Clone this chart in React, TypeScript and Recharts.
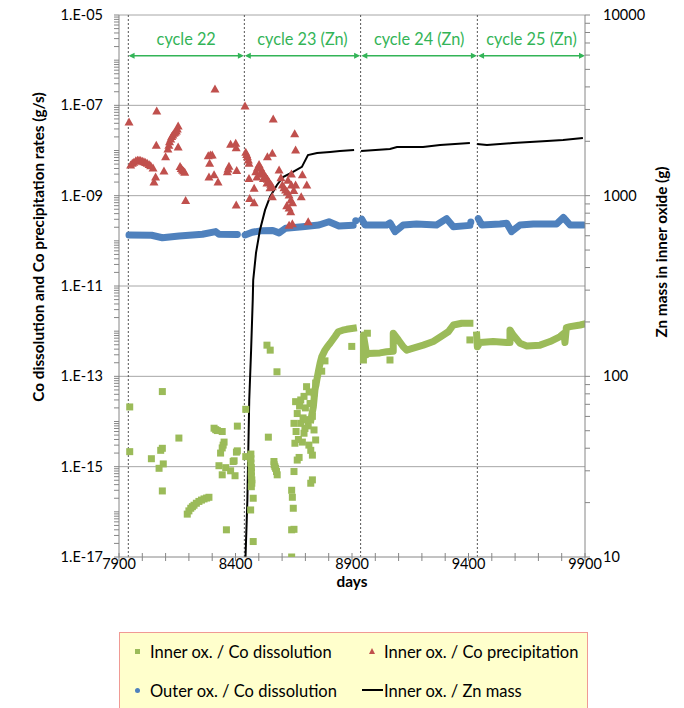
import React from 'react'
import { ComposedChart, XAxis, YAxis, Scatter, Line, ReferenceLine } from 'recharts'

type Pt = [number, number]

const FONT = 'Lato, "Liberation Sans", sans-serif'
const GREEN = '#9BBB59'
const RED = '#C0504D'
const BLUE = '#4F81BD'
const CYCLE = '#33B457'
const AXIS = '#868686'
const GRID = '#A6A6A6'

// axes
const leftMajor = [1e-17, 1e-15, 1e-13, 1e-11, 1e-9, 1e-7, 1e-5]
const rightMajor = [10, 100, 1000, 10000]
const dayTicks = [7900, 8000, 8100, 8200, 8300, 8400, 8500, 8600, 8700, 8800, 8900, 9000, 9100, 9200, 9300, 9400, 9500, 9600, 9700, 9800, 9900]
const dayLabels = [7900, 8400, 8900, 9400, 9900]

// cycles
const cycleBounds = [7940, 8438, 8937, 9438]
const cycleNames = ['cycle 22', 'cycle 23 (Zn)', 'cycle 24 (Zn)', 'cycle 25 (Zn)']
const cycleStarts = [7941, 8440, 8940, 9441]
const cycleEnds = [8436, 8935, 9436, 9900]
const ARROW_LEVEL = 1.25e-6

// Inner ox. / Co dissolution (g/s) - scattered squares
const innerDissolution: Pt[] = [
  [7946, 2.1e-14], [7946, 2.15e-15], [8039, 1.5e-15], [8072, 9.2e-16], [8079, 2.3e-15], [8086, 2.55e-15],
  [8090, 1.15e-15], [8086, 2.9e-16], [8086, 4.6e-14], [8157, 4.3e-15],
  [8193, 8.9e-17], [8200, 1.05e-16], [8208, 1.2e-16], [8215, 1.3e-16], [8222, 1.4e-16], [8232, 1.55e-16],
  [8243, 1.7e-16], [8254, 1.82e-16], [8265, 1.93e-16], [8276, 2.02e-16], [8286, 2.1e-16],
  [8308, 7.1e-15], [8315, 6.6e-15], [8322, 6.3e-15], [8343, 6.0e-15], [8351, 3.5e-15], [8347, 3.0e-15],
  [8343, 2.6e-15], [8336, 2.0e-15], [8329, 1.05e-15], [8343, 6.6e-16], [8358, 9.5e-16], [8379, 8.1e-16],
  [8398, 6.3e-16], [8394, 1.35e-15], [8390, 1.3e-15], [8408, 7.9e-15], [8408, 2.24e-15], [8404, 2.1e-15],
  [8361, 4.0e-17],
  [8444, 1.86e-14], [8444, 1.67e-15], [8466, 1.9e-15], [8466, 1.5e-15], [8466, 1.2e-15], [8468, 9.5e-16],
  [8468, 7.6e-16], [8468, 6.2e-16], [8470, 5.1e-16], [8470, 4.3e-16], [8468, 3.6e-16], [8476, 2.0e-16],
  [8465, 1.1e-16], [8476, 2.2e-17],
  [8535, 4.9e-13], [8549, 3.8e-13], [8578, 1.26e-13], [8541, 4.5e-15], [8565, 1.3e-15], [8566, 1.1e-15],
  [8569, 1.0e-15], [8572, 9.2e-16], [8576, 7.8e-16], [8579, 6.6e-16],
  [8641, 3.0e-16], [8644, 2.1e-16], [8648, 1.2e-16], [8641, 4.0e-17], [8651, 4.1e-17], [8641, 1.0e-17],
  [8651, 7.8e-16], [8665, 1.4e-15], [8673, 1.6e-15], [8655, 3.3e-15], [8651, 9.1e-15], [8658, 2.75e-14],
  [8680, 3.0e-14], [8694, 3.6e-14], [8705, 5.9e-14], [8723, 2.3e-15], [8730, 1.8e-15], [8730, 5.1e-16],
  [8723, 4.3e-16],
  [8665, 1.5e-14], [8680, 9.1e-15], [8694, 5.5e-15], [8687, 3.5e-15], [8730, 1.3e-14], [8737, 6.5e-15],
  [8744, 3.9e-15], [8737, 4.3e-14], [8744, 7.1e-14], [8660, 6.0e-15], [8670, 4.0e-15], [8700, 2.0e-14],
  [8712, 8.0e-15], [8715, 3.0e-15], [8690, 1.2e-14], [8720, 2.5e-14], [8705, 1.1e-14], [8698, 7.0e-15],
  [8675, 2.2e-14], [8716, 4.5e-14],
  [8770, 1.3e-13], [8784, 2.2e-13], [8899, 4.6e-13], [8966, 9.0e-13], [9063, 2.3e-13], [9406, 6.4e-13],
]

// Inner ox. / Co dissolution - dense runs of squares
const innerBand23: Pt[] = [
  [8724, 1.1e-14], [8734, 2.1e-14], [8741, 5.0e-14], [8749, 8.3e-14], [8756, 1.3e-13], [8763, 1.95e-13],
  [8770, 2.7e-13], [8784, 3.8e-13], [8795, 4.6e-13], [8806, 5.4e-13], [8827, 7.6e-13], [8841, 9.7e-13],
  [8860, 1.05e-12], [8877, 1.1e-12], [8906, 1.16e-12],
]
const innerBand24: Pt[] = [
  [8949, 2.3e-13], [8949, 8.2e-13], [8956, 5.0e-13], [8963, 3.0e-13], [8970, 3.2e-13], [9020, 3.3e-13],
  [9049, 3.5e-13], [9077, 3.6e-13], [9077, 9.0e-13], [9099, 6.4e-13], [9120, 4.5e-13], [9135, 3.8e-13],
  [9163, 4.2e-13], [9206, 4.9e-13], [9249, 5.9e-13], [9292, 8.2e-13], [9313, 9.7e-13], [9335, 1.37e-12],
  [9371, 1.5e-12], [9406, 1.5e-12],
]
const innerBand25: Pt[] = [
  [9435, 8.2e-13], [9438, 4.5e-13], [9449, 5.6e-13], [9506, 5.9e-13], [9564, 5.6e-13], [9578, 5.6e-13],
  [9578, 1.06e-12], [9592, 8.2e-13], [9621, 5.4e-13], [9650, 4.7e-13], [9707, 4.9e-13], [9750, 5.9e-13],
  [9793, 7.6e-13], [9810, 9.0e-13], [9814, 5.6e-13], [9820, 1.2e-12], [9836, 1.26e-12], [9879, 1.37e-12],
  [9898, 1.44e-12],
]

// Inner ox. / Co precipitation (g/s)
const innerPrecipitation: Pt[] = [
  [7943, 4.3e-8], [8062, 7.5e-8], [8312, 2.3e-7], [8441, 9.7e-8], [8562, 5.0e-8], [8654, 2.36e-8],
  [7950, 4.8e-9], [7957, 5.2e-9], [7964, 5.5e-9], [7972, 5.9e-9], [7979, 6.1e-9], [7986, 6.1e-9],
  [7993, 6.0e-9], [8000, 5.8e-9], [8007, 5.6e-9], [8014, 5.4e-9], [8021, 5.2e-9], [8029, 4.9e-9],
  [8036, 4.6e-9], [8046, 4.1e-9],
  [8050, 2.0e-9], [8057, 2.6e-9], [8060, 1.3e-8], [8093, 3.5e-9], [8100, 7.3e-9],
  [8110, 1.08e-8], [8114, 1.3e-8], [8117, 1.57e-8], [8122, 1.8e-8], [8126, 2.04e-8], [8131, 2.2e-8],
  [8136, 2.4e-8], [8141, 2.55e-8], [8146, 2.7e-8], [8150, 3.0e-8], [8154, 3.5e-8],
  [8154, 1.2e-8], [8162, 4.4e-9], [8167, 4.0e-9], [8172, 3.7e-9], [8177, 3.5e-9], [8182, 3.3e-9],
  [8186, 7.8e-10],
  [8283, 7.7e-9], [8292, 8.0e-9], [8300, 7.9e-9], [8289, 5.2e-9], [8286, 2.6e-9], [8308, 2.9e-9],
  [8325, 2.0e-9], [8372, 4.5e-9], [8365, 3.4e-9], [8368, 3.9e-9], [8379, 1.37e-8], [8401, 1.44e-8],
  [8403, 1.15e-8], [8405, 3.6e-9], [8403, 6.2e-10],
  [8444, 9.1e-9], [8448, 8.2e-9], [8451, 7.3e-9], [8455, 6.2e-9], [8458, 5.2e-9], [8458, 2.4e-9],
  [8461, 8.7e-10], [8480, 7.0e-10], [8480, 1.46e-9],
  [8487, 3.4e-9], [8494, 4.1e-9], [8501, 4.9e-9], [8508, 4.1e-9], [8515, 3.4e-9], [8522, 3.0e-9],
  [8530, 2.6e-9], [8537, 2.3e-9], [8544, 2.0e-9], [8551, 1.8e-9], [8558, 1.58e-9],
  [8492, 2.6e-9], [8505, 3.0e-9], [8520, 2.4e-9], [8535, 1.9e-9], [8548, 1.5e-9],
  [8537, 7.3e-9], [8558, 8.7e-9], [8558, 9.5e-10], [8587, 3.7e-9],
  [8601, 1.72e-9], [8608, 1.5e-9], [8615, 1.34e-9], [8622, 1.2e-9], [8630, 1.04e-9], [8637, 8.0e-10],
  [8630, 5.3e-10], [8637, 4.4e-10], [8630, 2.2e-10],
  [8658, 1.03e-8], [8640, 1.72e-9], [8658, 1.72e-9], [8687, 2.9e-9], [8682, 9.5e-10], [8706, 1.72e-9],
  [8644, 2.4e-10], [8712, 2.65e-10], [8595, 2.5e-9], [8640, 3.0e-9], [8625, 2.2e-9], [8650, 1.3e-9],
  [8645, 7.0e-10], [8620, 6.0e-10],
]

// Outer ox. / Co dissolution (g/s) - dense runs of circles
const outer22: Pt[] = [
  [7943, 1.35e-10], [8040, 1.33e-10], [8086, 1.17e-10], [8158, 1.28e-10], [8258, 1.4e-10], [8315, 1.6e-10],
  [8329, 1.4e-10], [8408, 1.38e-10],
]
const outer23: Pt[] = [
  [8441, 1.35e-10], [8472, 1.55e-10], [8515, 1.68e-10], [8560, 1.7e-10], [8587, 1.5e-10], [8615, 1.9e-10],
  [8687, 2.06e-10], [8758, 2.24e-10], [8801, 2.65e-10], [8844, 2.13e-10], [8905, 2.2e-10],
]
const outer24: Pt[] = [
  [8942, 3.0e-10], [8956, 2.24e-10], [9049, 2.24e-10], [9063, 2.5e-10], [9085, 1.6e-10], [9120, 2.24e-10],
  [9177, 2.36e-10], [9263, 2.24e-10], [9306, 3.1e-10], [9335, 2.06e-10], [9406, 2.2e-10],
]
const outer25: Pt[] = [
  [9442, 3.1e-10], [9457, 2.24e-10], [9535, 2.36e-10], [9564, 2.45e-10], [9585, 1.6e-10], [9621, 2.24e-10],
  [9678, 2.36e-10], [9778, 2.36e-10], [9807, 3.3e-10], [9836, 2.24e-10], [9893, 2.24e-10],
]
const outerDots: Pt[] = [[8916, 2.8e-10], [9410, 2.6e-10]]

// Inner ox. / Zn mass (g)
const zn23: Pt[] = [
  [8443, 10], [8451, 20.7], [8459, 74], [8467, 140], [8474, 265], [8476, 341], [8488, 482], [8505, 646],
  [8527, 834], [8548, 984], [8578, 1146], [8604, 1268], [8647, 1353], [8685, 1443], [8711, 1679],
  [8750, 1722], [8806, 1745], [8848, 1767], [8909, 1790],
]
const zn24: Pt[] = [[8939, 1767], [9063, 1811], [9093, 1857], [9205, 1857], [9278, 1905], [9406, 1957]]
const zn25: Pt[] = [[9436, 1931], [9479, 1905], [9591, 1957], [9737, 2009], [9806, 2034], [9891, 2084]]

const rows = (pts: Pt[]) => pts.map(([d, v]) => ({ d, v }))

const leftTicks: number[] = []
for (let n = -17; n < -5; n++) for (let k = 1; k < 10; k++) leftTicks.push(k * Math.pow(10, n))
leftTicks.push(1e-5)
const rightTicks: number[] = []
for (let n = 1; n < 4; n++) for (let k = 1; k < 10; k++) rightTicks.push(k * Math.pow(10, n))
rightTicks.push(10000)

const isMajor = (v: number, majors: number[]) => majors.some((m) => Math.abs(v / m - 1) < 1e-6)

function sciLabel(v: number) {
  const e = Math.round(Math.log10(v))
  return `1.E${e < 0 ? '-' : '+'}${String(Math.abs(e)).padStart(2, '0')}`
}

// the axes sit at x=119 (left), x=585 (right), y=557 (bottom)
const LeftTick = ({ y, payload }: any) => (
  <g>
    <line x1={114} x2={119} y1={y} y2={y} stroke={AXIS} />
    {isMajor(payload.value, leftMajor) && (
      <text x={103} y={y + 5} textAnchor="end" fontSize={14.5} fontFamily={FONT} fill="#000">
        {sciLabel(payload.value)}
      </text>
    )}
  </g>
)

const RightTick = ({ y, payload }: any) => (
  <g>
    <line x1={585} x2={590} y1={y} y2={y} stroke={AXIS} />
    {isMajor(payload.value, rightMajor) && (
      <text x={603} y={y + 5} textAnchor="start" fontSize={14.5} fontFamily={FONT} fill="#000">
        {Math.round(payload.value)}
      </text>
    )}
  </g>
)

const DayTick = ({ x, payload }: any) => (
  <g>
    <line x1={x} x2={x} y1={553} y2={561} stroke={AXIS} />
    {dayLabels.includes(payload.value) && (
      <text x={x} y={569} textAnchor="middle" fontSize={14.5} fontFamily={FONT} fill="#000">
        {payload.value}
      </text>
    )}
  </g>
)

const cycleArrow = (name: string) => (p: any) => {
  const { x1, y1, x2 } = p
  if (x1 == null) return <g />
  return (
    <g>
      <line x1={x1 + 2} y1={y1} x2={x2 - 2} y2={y1} stroke={CYCLE} strokeWidth={1.5} />
      <polygon points={`${x1},${y1} ${x1 + 6},${y1 - 3} ${x1 + 6},${y1 + 3}`} fill={CYCLE} />
      <polygon points={`${x2},${y1} ${x2 - 6},${y1 - 3} ${x2 - 6},${y1 + 3}`} fill={CYCLE} />
      <text x={(x1 + x2) / 2} y={y1 - 11} textAnchor="middle" fontSize={16.3} fontFamily={FONT} fill={CYCLE}>
        {name}
      </text>
    </g>
  )
}

const square = (p: any) => <rect x={p.cx - 3.5} y={p.cy - 3.5} width={7} height={7} fill={GREEN} />
const triangle = (p: any) => (
  <polygon points={`${p.cx},${p.cy - 4.5} ${p.cx + 4.5},${p.cy + 3.5} ${p.cx - 4.5},${p.cy + 3.5}`} fill={RED} />
)
const dot = (p: any) => <circle cx={p.cx} cy={p.cy} r={3.5} fill={BLUE} />

const legendText: React.CSSProperties = {
  position: 'absolute',
  fontSize: 16.5,
  color: '#000',
  whiteSpace: 'nowrap',
  transform: 'translateY(-50%)',
  lineHeight: '20px',
}

const titleStyle: React.CSSProperties = {
  position: 'absolute',
  fontSize: 15.3,
  fontWeight: 700,
  whiteSpace: 'nowrap',
}

export default function App() {
  return (
    <div style={{ position: 'absolute', left: 0, top: 0, width: 684, height: 708, background: '#fff', overflow: 'hidden', fontFamily: FONT }}>
      <ComposedChart width={684} height={600} margin={{ top: 15, right: 39, bottom: 13, left: 59 }}>
        <XAxis
          dataKey="d"
          type="number"
          domain={[7900, 9900]}
          ticks={dayTicks}
          interval={0}
          allowDataOverflow
          height={30}
          tickSize={0}
          tickMargin={0}
          tickLine={false}
          axisLine={{ stroke: AXIS }}
          tick={(p: any) => <DayTick {...p} />}
        />
        <YAxis
          yAxisId="left"
          scale="log"
          domain={[1e-17, 1e-5]}
          ticks={leftTicks}
          interval={0}
          allowDataOverflow
          width={60}
          tickSize={0}
          tickMargin={0}
          tickLine={false}
          axisLine={{ stroke: AXIS }}
          tick={(p: any) => <LeftTick {...p} />}
        />
        <YAxis
          yAxisId="right"
          orientation="right"
          scale="log"
          domain={[10, 10000]}
          ticks={rightTicks}
          interval={0}
          allowDataOverflow
          width={60}
          tickSize={0}
          tickMargin={0}
          tickLine={false}
          axisLine={{ stroke: AXIS }}
          tick={(p: any) => <RightTick {...p} />}
        />
        {leftMajor.slice(1).map((v) => (
          <ReferenceLine key={v} yAxisId="left" y={v} stroke={GRID} />
        ))}
        {cycleBounds.map((d) => (
          <ReferenceLine key={d} yAxisId="left" x={d} stroke="#555" strokeDasharray="2 2" />
        ))}
        {cycleNames.map((name, i) => (
          <ReferenceLine
            key={name}
            yAxisId="left"
            segment={[{ x: cycleStarts[i], y: ARROW_LEVEL }, { x: cycleEnds[i], y: ARROW_LEVEL }]}
            shape={cycleArrow(name)}
          />
        ))}

        <Scatter yAxisId="left" data={rows(innerDissolution)} dataKey="v" shape={square} isAnimationActive={false} />
        {[innerBand23, innerBand24, innerBand25].map((b, i) => (
          <Line
            key={'ib' + i}
            yAxisId="left"
            data={rows(b)}
            dataKey="v"
            type="linear"
            stroke={GREEN}
            strokeWidth={7}
            strokeLinejoin="round"
            strokeLinecap="square"
            dot={false}
            activeDot={false}
            isAnimationActive={false}
          />
        ))}
        <Scatter yAxisId="left" data={rows(innerPrecipitation)} dataKey="v" shape={triangle} isAnimationActive={false} />
        {[outer22, outer23, outer24, outer25].map((b, i) => (
          <Line
            key={'ob' + i}
            yAxisId="left"
            data={rows(b)}
            dataKey="v"
            type="linear"
            stroke={BLUE}
            strokeWidth={7}
            strokeLinejoin="round"
            strokeLinecap="round"
            dot={false}
            activeDot={false}
            isAnimationActive={false}
          />
        ))}
        <Scatter yAxisId="left" data={rows(outerDots)} dataKey="v" shape={dot} isAnimationActive={false} />
        {[zn23, zn24, zn25].map((b, i) => (
          <Line
            key={'zn' + i}
            yAxisId="right"
            data={rows(b)}
            dataKey="v"
            type="linear"
            stroke="#000"
            strokeWidth={2}
            dot={false}
            activeDot={false}
            isAnimationActive={false}
          />
        ))}
      </ComposedChart>

      <div style={{ ...titleStyle, left: 38, top: 247, transform: 'translate(-50%, -50%) rotate(-90deg)' }}>
        Co dissolution and Co precipitation rates (g/s)
      </div>
      <div style={{ ...titleStyle, left: 661, top: 252, transform: 'translate(-50%, -50%) rotate(-90deg)' }}>
        Zn mass in inner oxide (g)
      </div>
      <div style={{ ...titleStyle, left: 352, top: 581, transform: 'translate(-50%, -50%)' }}>
        days
      </div>

      <div style={{ position: 'absolute', left: 119, top: 632, width: 467, height: 90, border: '1px solid #F09A94', background: '#FFFFCC' }}>
        <div style={{ position: 'absolute', left: 15, top: 16, width: 5, height: 5, background: GREEN }} />
        <div style={{ ...legendText, left: 30, top: 19 }}>Inner ox. / Co dissolution</div>
        <svg style={{ position: 'absolute', left: 248, top: 14 }} width={8} height={8}>
          <polygon points="4,1 7,7 1,7" fill={RED} />
        </svg>
        <div style={{ ...legendText, left: 264, top: 19 }}>Inner ox. / Co precipitation</div>
        <div style={{ position: 'absolute', left: 15, top: 55, width: 5, height: 5, borderRadius: 3, background: BLUE }} />
        <div style={{ ...legendText, left: 30, top: 58 }}>Outer ox. / Co dissolution</div>
        <div style={{ position: 'absolute', left: 242, top: 56, width: 21, height: 2, background: '#000' }} />
        <div style={{ ...legendText, left: 264, top: 58 }}>Inner ox. / Zn mass</div>
      </div>
    </div>
  )
}
